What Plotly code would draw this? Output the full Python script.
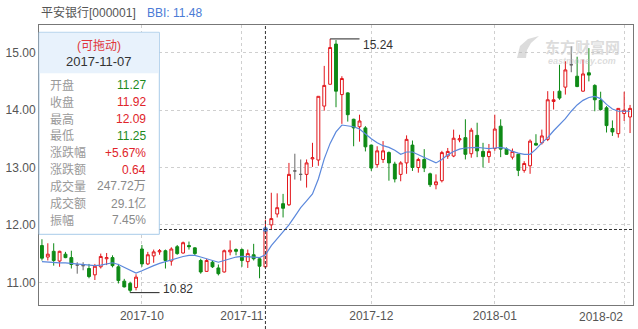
import pandas as pd
import plotly.graph_objects as go

# ---------------- data ----------------
holidays = ["2017-10-02", "2017-10-03", "2017-10-04", "2017-10-05", "2017-10-06", "2018-01-01"]
dates = [d.strftime("%Y-%m-%d") for d in pd.bdate_range("2017-09-07", "2018-02-02")
         if d.strftime("%Y-%m-%d") not in holidays]

opens = [11.64, 11.44, 11.54, 11.37, 11.49, 11.43, 11.30, 11.29, 11.24, 11.13,
         11.27, 11.41, 11.43, 11.27, 11.02, 10.98, 10.91, 11.58, 11.32, 11.46,
         11.53, 11.55, 11.37, 11.62, 11.51, 11.64, 11.60, 11.38, 11.19, 11.35,
         11.25, 11.18, 11.53, 11.57, 11.57, 11.36, 11.48, 11.41, 11.27, 12.00,
         12.19, 12.37, 12.35, 12.94, 12.88, 12.88, 13.15, 13.13, 14.07, 14.45,
         15.15, 14.27, 14.30, 13.84, 13.71, 13.69, 13.39, 13.05, 13.14, 13.26,
         13.06, 12.88, 13.08, 13.39, 13.00, 13.14, 12.89, 12.70, 12.77, 13.20,
         13.20, 13.48, 13.52, 13.24, 13.56, 13.28, 13.19, 13.33, 13.72, 13.32,
         13.18, 13.23, 12.95, 13.03, 13.42, 13.43, 13.49, 14.15, 14.33, 14.40,
         14.79, 14.59, 14.33, 14.65, 14.43, 14.17, 14.04, 13.68, 13.59, 13.94,
         13.88]
highs = [11.75, 11.68, 11.68, 11.55, 11.53, 11.55, 11.35, 11.35, 11.32, 11.32,
         11.50, 11.51, 11.47, 11.32, 11.06, 11.01, 11.14, 11.65, 11.53, 11.57,
         11.58, 11.57, 11.61, 11.65, 11.71, 11.71, 11.61, 11.41, 11.41, 11.38,
         11.31, 11.57, 11.73, 11.59, 11.59, 11.57, 11.67, 11.44, 12.09, 12.56,
         12.55, 12.54, 13.08, 13.24, 13.14, 13.14, 13.43, 14.24, 14.77, 15.24,
         15.22, 14.59, 14.31, 13.85, 13.92, 13.72, 13.40, 13.37, 13.46, 13.28,
         13.10, 13.11, 13.56, 13.47, 13.17, 13.32, 12.91, 12.88, 13.29, 13.34,
         13.66, 13.57, 13.84, 13.69, 13.78, 13.43, 13.41, 13.92, 13.84, 13.35,
         13.33, 13.24, 13.11, 13.49, 13.58, 13.66, 14.33, 14.33, 14.79, 14.85,
         15.11, 14.93, 14.88, 15.08, 14.45, 14.32, 14.07, 13.82, 14.03, 14.32,
         14.09]
lows = [11.38, 11.38, 11.29, 11.27, 11.42, 11.24, 11.15, 11.21, 11.07, 11.04,
        11.24, 11.30, 11.26, 10.98, 10.91, 10.82, 10.86, 11.27, 11.30, 11.34,
        11.48, 11.24, 11.29, 11.48, 11.50, 11.57, 11.47, 11.15, 11.18, 11.25,
        11.12, 11.17, 11.47, 11.47, 11.27, 11.25, 11.38, 11.07, 11.25, 11.91,
        12.13, 12.13, 12.33, 12.79, 12.77, 12.65, 13.01, 13.03, 13.99, 14.45,
        14.05, 13.76, 13.80, 13.37, 13.45, 13.28, 12.94, 13.00, 13.08, 12.77,
        12.74, 12.76, 12.89, 12.94, 12.91, 12.92, 12.66, 12.62, 12.74, 13.15,
        13.18, 13.44, 13.14, 13.17, 13.18, 13.00, 13.08, 13.29, 13.18, 13.22,
        13.14, 12.85, 12.91, 12.89, 13.38, 13.40, 13.46, 14.01, 14.18, 14.27,
        14.66, 14.40, 14.32, 14.50, 13.98, 13.99, 13.61, 13.55, 13.52, 13.81,
        13.60]
closes = [11.42, 11.49, 11.38, 11.54, 11.43, 11.31, 11.30, 11.29, 11.10, 11.28,
          11.45, 11.43, 11.29, 11.03, 10.92, 10.86, 11.09, 11.32, 11.48, 11.53,
          11.55, 11.38, 11.58, 11.50, 11.69, 11.62, 11.50, 11.18, 11.38, 11.27,
          11.15, 11.55, 11.56, 11.54, 11.38, 11.50, 11.41, 11.28, 11.92, 12.11,
          12.30, 12.29, 12.88, 12.94, 12.88, 13.08, 13.17, 14.24, 14.43, 15.09,
          14.33, 14.55, 13.92, 13.69, 13.81, 13.36, 12.99, 13.29, 13.29, 13.08,
          12.80, 13.08, 13.49, 13.00, 13.14, 12.99, 12.70, 12.75, 13.26, 13.28,
          13.51, 13.50, 13.23, 13.65, 13.29, 13.19, 13.28, 13.67, 13.32, 13.23,
          13.28, 12.95, 13.07, 13.46, 13.39, 13.55, 14.18, 14.18, 14.21, 14.70,
          14.79, 14.41, 14.63, 14.61, 14.18, 14.01, 13.73, 13.62, 14.03, 14.00,
          14.03]
bbi = [11.36, 11.35, 11.35, 11.34, 11.34, 11.33, 11.32, 11.32, 11.31, 11.29,
       11.30, 11.32, 11.34, 11.31, 11.26, 11.20, 11.16, 11.20, 11.25, 11.29,
       11.33, 11.36, 11.40, 11.43, 11.45, 11.47, 11.47, 11.44, 11.41, 11.38,
       11.35, 11.38, 11.41, 11.44, 11.45, 11.45, 11.44, 11.43, 11.48, 11.64,
       11.76, 11.88, 12.00, 12.15, 12.30, 12.42, 12.54, 12.80, 13.15, 13.42,
       13.62, 13.74, 13.73, 13.71, 13.67, 13.58, 13.50, 13.43, 13.38, 13.35,
       13.30, 13.23, 13.27, 13.27, 13.22, 13.17, 13.12, 13.08, 13.14, 13.22,
       13.28, 13.32, 13.34, 13.35, 13.35, 13.34, 13.33, 13.34, 13.35, 13.33,
       13.28, 13.25, 13.23, 13.23, 13.32, 13.43, 13.52, 13.64, 13.74, 13.85,
       13.98, 14.09, 14.17, 14.22, 14.24, 14.20, 14.10, 14.02, 13.98, 13.98,
       13.98]

y_ticks = [11, 12, 13, 14, 15]
sel_date = "2017-11-07"
info_labels = ["开盘", "收盘", "最高", "最低", "涨跌幅", "涨跌额", "成交量", "成交额", "振幅"]
info_values = ["11.27", "11.92", "12.09", "11.25", "+5.67%", "0.64", "247.72万", "29.1亿", "7.45%"]
info_colors = ["g", "r", "r", "g", "r", "r", "n", "n", "n"]

# ---------------- style ----------------
RED = "#e2161b"
GREEN = "#0e8a16"
GRAY = "#666666"
BLUE = "#5b88dc"
FONT = "Arial, 'Liberation Sans', 'Noto Sans CJK SC', sans-serif"
W, H = 638, 329
ML, MR, MT, MB = 39, 5, 25, 24
PW, PH = W - ML - MR, H - MT - MB

def px(x):
    return (x - ML) / PW

def py(y):
    return (H - MB - y) / PH

idx = list(range(len(dates)))
up = [i for i in idx if closes[i] > opens[i]]
dn = [i for i in idx if closes[i] < opens[i]]
dj = [i for i in idx if closes[i] == opens[i]]

def sub(lst, ids):
    return [lst[i] for i in ids]

fig = go.Figure()
fig.add_trace(go.Scatter(x=idx, y=bbi, mode="lines", line=dict(color=BLUE, width=1.2),
                         hoverinfo="skip", showlegend=False))
for ids, lc, fc in [(up, RED, "white"), (dn, GREEN, GREEN), (dj, GRAY, GRAY)]:
    fig.add_trace(go.Candlestick(
        x=ids, open=sub(opens, ids), high=sub(highs, ids), low=sub(lows, ids), close=sub(closes, ids),
        increasing=dict(line=dict(color=lc, width=1), fillcolor=fc),
        decreasing=dict(line=dict(color=lc, width=1), fillcolor=fc),
        whiskerwidth=0, showlegend=False, hoverinfo="skip"))

sel = dates.index(sel_date)
fig.add_trace(go.Scatter(x=[sel], y=[closes[sel]], mode="markers",
                         marker=dict(color=BLUE, size=5), showlegend=False, hoverinfo="skip",
                         cliponaxis=False))

# month ticks
tickvals, ticktext = [], []
seen = set()
for i, d in enumerate(dates):
    m = d[:7]
    if m not in seen:
        seen.add(m)
        if i > 0:
            tickvals.append(i)
            ticktext.append(m)

shapes = []
annotations = []

# last month label would overflow the right edge: draw it shifted left to fit
last_label = ticktext[-1]
ticktext_axis = ticktext[:-1] + [""]
annotations.append(dict(x=px(623.5), y=py(316.5), xref="paper", yref="paper", text=last_label,
                        showarrow=False, xanchor="right", yanchor="middle", borderpad=0,
                        font=dict(size=12, color="#555", family=FONT)))

# max / min markers
imax = max(idx, key=lambda i: highs[i])
imin = min(idx, key=lambda i: lows[i])
for i, val, shift in [(imax, highs[imax], -6), (imin, lows[imin], 4)]:
    shapes.append(dict(type="line", xref="x", yref="y", x0=i, x1=i + 5, y0=val, y1=val,
                       line=dict(color="#222", width=1)))
    annotations.append(dict(x=i + 5, y=val, xref="x", yref="y", text=f"{val:.2f}",
                            showarrow=False, xanchor="left", yanchor="middle", xshift=1,
                            yshift=shift, font=dict(size=12, color="#333", family=FONT)))

# crosshair
shapes.append(dict(type="line", xref="x", yref="paper", x0=sel, x1=sel, y0=py(H), y1=1,
                   line=dict(color="#333", width=1, dash="3px,2px"), layer="above"))
shapes.append(dict(type="line", xref="paper", yref="y", x0=0, x1=1, y0=closes[sel], y1=closes[sel],
                   line=dict(color="#333", width=1, dash="3px,2px"), layer="above"))

# info box
bx0, bx1, by0, by1, bh = 39, 159.3, 32.3, 234.3, 73.3
shapes.append(dict(type="rect", xref="paper", yref="paper", x0=px(bx0), x1=px(bx1),
                   y0=py(by1), y1=py(by0), fillcolor="white",
                   line=dict(color="#a8cbe9", width=1), layer="above"))
shapes.append(dict(type="rect", xref="paper", yref="paper", x0=px(bx0 + 0.5), x1=px(bx1 - 0.5),
                   y0=py(bh), y1=py(by0 + 0.5), fillcolor="#e8f2fc",
                   line=dict(width=0), layer="above"))
annotations.append(dict(x=px(98.5), y=py(45.7), xref="paper", yref="paper", text="(可拖动)",
                        showarrow=False, xanchor="center", yanchor="middle",
                        font=dict(size=12, color="#e0363a", family=FONT)))
annotations.append(dict(x=px(98.5), y=py(61.5), xref="paper", yref="paper", text=sel_date,
                        showarrow=False, xanchor="center", yanchor="middle",
                        font=dict(size=13, color="#333", family=FONT)))
cmap = {"g": "#1d8a1d", "r": "#e0242a", "n": "#8a8a8a"}
for k, (lab, val, c) in enumerate(zip(info_labels, info_values, info_colors)):
    yy = 85.3 + k * 16.85
    annotations.append(dict(x=px(47.5), y=py(yy), xref="paper", yref="paper", text=lab,
                            showarrow=False, xanchor="left", yanchor="middle",
                            font=dict(size=12, color="#9a9a9a", family=FONT)))
    annotations.append(dict(x=px(148), y=py(yy), xref="paper", yref="paper", text=val,
                            showarrow=False, xanchor="right", yanchor="middle",
                            font=dict(size=12, color=cmap[c], family=FONT)))

# title
annotations.append(dict(x=px(39), y=py(13), xref="paper", yref="paper", text="平安银行[000001]",
                        showarrow=False, xanchor="left", yanchor="middle",
                        font=dict(size=12, color="#555", family=FONT)))
annotations.append(dict(x=px(145), y=py(13), xref="paper", yref="paper", text=f"BBI: {bbi[sel]:.2f}",
                        showarrow=False, xanchor="left", yanchor="middle",
                        font=dict(size=12, color="#4a7bd6", family=FONT)))

# watermark (logo swoosh + text)
WM = "rgba(185,185,185,0.5)"
pts = [(517, 58), (520, 46), (528, 39), (539, 36), (531, 43), (527, 50), (526, 58)]
path = "M " + " L ".join(f"{px(x):.5f},{py(y):.5f}" for x, y in pts) + " Z"
shapes.append(dict(type="path", xref="paper", yref="paper", path=path,
                   fillcolor=WM, line=dict(width=0), layer="above"))
annotations.append(dict(x=px(582), y=py(46.5), xref="paper", yref="paper", text="<b>东方财富网</b>",
                        showarrow=False, xanchor="center", yanchor="middle", borderpad=0,
                        font=dict(size=15, color=WM, family="Noto Sans CJK SC")))
annotations.append(dict(x=px(582), y=py(61.5), xref="paper", yref="paper", text="<b><i>eastmoney.com</i></b>",
                        showarrow=False, xanchor="center", yanchor="middle", borderpad=0,
                        font=dict(size=9, color=WM, family=FONT)))

ytop = 11 + (282.3 - 25) / 57.4
ybot = 11 - (305 - 282.3) / 57.4

fig.update_layout(
    width=W, height=H,
    margin=dict(l=ML, r=MR, t=MT, b=MB, pad=0),
    paper_bgcolor="white", plot_bgcolor="white",
    font=dict(family=FONT, size=12, color="#555"),
    shapes=shapes, annotations=annotations,
    showlegend=False,
    xaxis=dict(range=[-0.5, len(dates) - 0.5], tickvals=tickvals, ticktext=ticktext_axis,
               showgrid=True, gridcolor="#cfcfcf", griddash="3px,3px", gridwidth=1,
               showline=True, linecolor="#777", linewidth=1, mirror=True,
               ticks="", rangeslider=dict(visible=False), zeroline=False,
               tickfont=dict(size=12, color="#555")),
    yaxis=dict(range=[ybot, ytop], tickvals=y_ticks, ticktext=[f"{v:.2f}" for v in y_ticks],
               showgrid=True, gridcolor="#cfcfcf", griddash="3px,3px", gridwidth=1,
               showline=True, linecolor="#777", linewidth=1, mirror=True,
               ticks="", zeroline=False, tickfont=dict(size=12, color="#555")),
)

fig.write_html("out.html")
